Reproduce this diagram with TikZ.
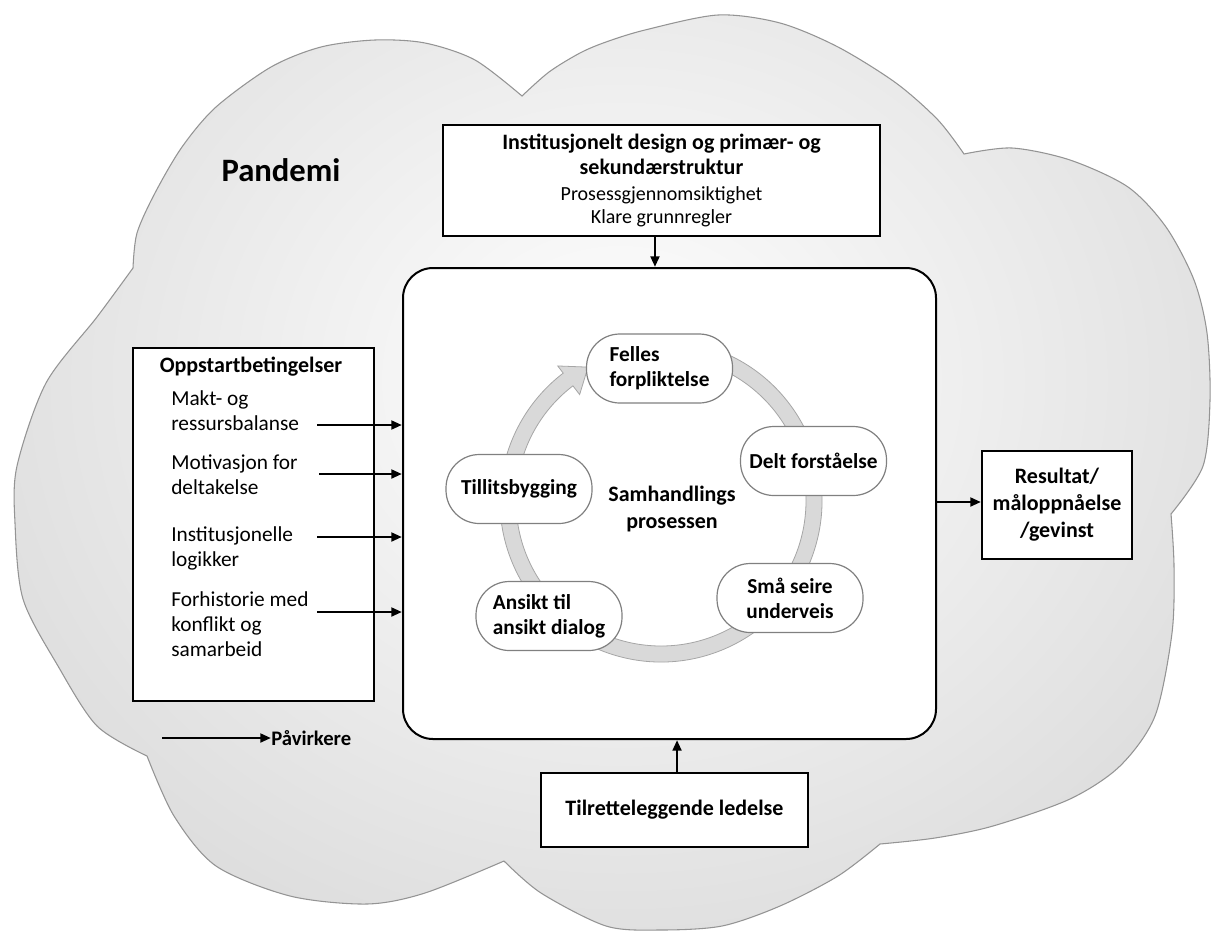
\documentclass[tikz,border=0pt]{standalone}
\usepackage{fontspec}
\setmainfont{Carlito}
\usetikzlibrary{arrows.meta}

% Outline of the surrounding cloud, one smooth plot per lobe
\newcommand\cloudoutline{%
  plot[smooth] coordinates {(133,268) (137,233) (155,193) (182,147) (216,107) (271,67) (321,47) (375,40) (425,43) (475,60) (522,96)}
  -- plot[smooth] coordinates {(522,96) (549,72) (580,53) (606,42) (645,30) (718,15) (780,23) (838,47) (896,83) (938,120) (964,154)}
  -- plot[smooth] coordinates {(964,154) (1012,148) (1070,160) (1128,187) (1166,227) (1194,280) (1207,333) (1210,400) (1203,466) (1171,514)}
  -- plot[smooth] coordinates {(1171,514) (1174,566) (1172,633) (1155,716) (1120,766) (1070,799) (993,826) (935,838) (880,844)}
  -- plot[smooth] coordinates {(880,844) (838,876) (780,906) (722,926) (660,930) (606,926) (541,893) (504,861)}
  -- plot[smooth] coordinates {(504,861) (425,893) (367,904) (290,896) (216,866) (174,816) (147,756)}
  -- plot[smooth] coordinates {(147,756) (97,726) (58,666) (23,599) (15,523) (17,466) (46,383) (97,317) (133,268)}
  -- cycle}

\tikzset{
  cloudedge/.style={draw=black!42, line width=0.8pt},
  frame/.style={draw=black, line width=1.5pt, fill=white, inner sep=0pt},
  stage/.style={draw=black!50, line width=0.9pt, fill=white, rounded corners=25pt,
    minimum width=109.5pt, minimum height=51.75pt, inner sep=0pt, align=center,
    font=\bfseries\fontsize{16}{18.75}\selectfont},
  heading/.style={font=\bfseries\fontsize{16.5}{19}\selectfont},
  itemtext/.style={font=\fontsize{16}{18.75}\selectfont, align=left, inner sep=0pt},
  link/.style={line width=2pt, -{Triangle[length=8pt,width=6.5pt]}},
  ringband/.style={fill=black!15, draw=black!35, line width=0.6pt},
}

\begin{document}
\begin{tikzpicture}[x=0.75pt, y=-0.75pt]
\useasboundingbox (0,0) rectangle (1212,932);

% cloud with soft grey fill
\begin{scope}
  \clip \cloudoutline;
  \shade[inner color=white, outer color=black!14] (620,380) ellipse [x radius=740, y radius=640];
\end{scope}
\draw[cloudedge] \cloudoutline;

\node[font=\bfseries\fontsize{24.5}{29}\selectfont] (pandemi) at (281,170) {Pandemi};

% central process frame
\node[frame, rounded corners=22.5pt, minimum width=399.75pt, minimum height=353.25pt] (main) at (669.5,503.5) {};

% institutional design
\node[frame, minimum width=327.75pt, minimum height=83.25pt, align=center, heading] (design) at (661.5,180.5)
  {Institusjonelt design og primær- og\\ sekundærstruktur\\
   {\mdseries\fontsize{15}{17.25}\selectfont Prosessgjennomsiktighet}\\[-1.5pt]
   {\mdseries\fontsize{15}{17.25}\selectfont Klare grunnregler}};

% facilitating leadership
\node[frame, minimum width=200.25pt, minimum height=55.5pt, heading] (lead) at (674.5,810) {Tilretteleggende ledelse};

% outcome
\node[frame, minimum width=112.5pt, minimum height=81pt, align=center,
      font=\bfseries\fontsize{16.5}{20.25}\selectfont] (result) at (1057,505) {Resultat/\\måloppnåelse\\/gevinst};

% starting conditions (base anchors sit on the last line of each entry)
\node[frame, minimum width=180.75pt, minimum height=264.75pt] (start) at (253.5,524.5) {};
\node[heading, anchor=base] (starttitle) at (251,372) {Oppstartbetingelser};
\node[itemtext, anchor=base west] (power) at (171,430) {Makt- og\\ressursbalanse};
\node[itemtext, anchor=base west] (motive) at (171,494) {Motivasjon for\\deltakelse};
\node[itemtext, anchor=base west] (logic) at (171,566) {Institusjonelle\\logikker};
\node[itemtext, anchor=base west] (history) at (171,656) {Forhistorie med\\konflikt og\\samarbeid};

\coordinate (t1) at (317,425);
\coordinate (t2) at (319,474);
\coordinate (t3) at (317,537);
\coordinate (t4) at (317,612);
\foreach \t in {t1,t2,t3,t4}
  \draw[link] (\t) -- (\t -| main.west);

% cycle of the collaboration process
\coordinate (hub) at (661,501);
\begin{scope}[shift={(hub)}]
  \filldraw[ringband] (-75:161) arc[start angle=-75, end angle=232.6, radius=161]
    -- (232.6:170) -- (241.4:152.5) -- (232.6:134) -- (232.6:145)
    arc[start angle=232.6, end angle=-75, radius=145] -- cycle;
\end{scope}

\node[stage, align=left] (felles) at (659.5,368.5) {Felles\\forpliktelse};
\node[stage] (delt) at (813.5,461) {Delt forståelse};
\node[stage] (sma) at (790,598) {Små seire\\underveis};
\node[stage, align=left] (ansikt) at (549,616) {Ansikt til\\ansikt dialog};
\node[stage] (tillit) at (519,489) {Tillitsbygging};
\node[align=center, font=\bfseries\fontsize{16.5}{20.25}\selectfont] (core) at (672,509) {Samhandlings\\prosessen};

% influences on the process
\draw[link] ([xshift=-4.9pt]design.south) -- ([xshift=-4.9pt]design.south |- main.north);
\draw[link] ([xshift=1.9pt]lead.north) -- ([xshift=1.9pt]lead.north |- main.south);
\coordinate (resin) at ([yshift=2.25pt]result.west);
\draw[link] (resin -| main.east) -- (resin);

% legend
\coordinate (legtail) at (162,738);
\node[anchor=west, inner sep=0pt, font=\bfseries\fontsize{15.5}{18}\selectfont] (legend) at (271,738) {Påvirkere};
\draw[link] (legtail) -- (legend.west);
\end{tikzpicture}
\end{document}
